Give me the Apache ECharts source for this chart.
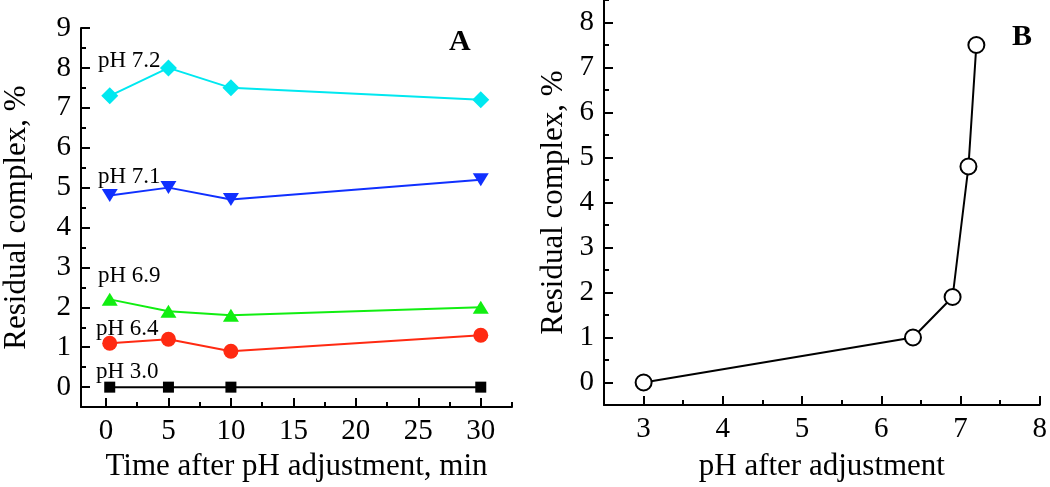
<!DOCTYPE html>
<html>
<head>
<meta charset="utf-8">
<script src="https://cdn.jsdelivr.net/npm/echarts@6/dist/echarts.min.js"></script>
<style>
html,body{margin:0;padding:0;background:#fff;}
#chart{width:1050px;height:487px;}
</style>
</head>
<body>
<div id="chart"></div>
<script>
// ---- Panel A data ----
const timesA = [0.3, 5, 10, 30];
const pH72 = [7.3, 8.0, 7.5, 7.2];
const pH71 = [4.8, 5.0, 4.7, 5.2];
const pH69 = [2.2, 1.9, 1.8, 2.0];
const pH64 = [1.1, 1.2, 0.9, 1.3];
const pH30 = [0, 0, 0, 0];
const seriesNamesA = ['pH 7.2', 'pH 7.1', 'pH 6.9', 'pH 6.4', 'pH 3.0'];
const xTicksA = [0, 5, 10, 15, 20, 25, 30];
const xMinorA = [2.5, 7.5, 12.5, 17.5, 22.5, 27.5, 32.5];
const yTicksA = [0, 1, 2, 3, 4, 5, 6, 7, 8, 9];
const yMinorA = [-0.5, 0.5, 1.5, 2.5, 3.5, 4.5, 5.5, 6.5, 7.5, 8.5];

// ---- Panel B data ----
const pHB = [3.0, 6.4, 6.9, 7.1, 7.2];
const residB = [0, 1.0, 1.9, 4.8, 7.5];
const xTicksB = [3, 4, 5, 6, 7, 8];
const xMinorB = [2.5, 3.5, 4.5, 5.5, 6.5, 7.5];
const yTicksB = [0, 1, 2, 3, 4, 5, 6, 7, 8];
const yMinorB = [-0.5, 0.5, 1.5, 2.5, 3.5, 4.5, 5.5, 6.5, 7.5, 8.5];

const FONT = 'Liberation Serif';
const chart = echarts.init(document.getElementById('chart'), null, {renderer: 'canvas'});

function pairs(xs, ys) { return xs.map((x, i) => [x, ys[i]]); }

function majorAxis(grid, pos, min, max, ticks, extra) {
  return Object.assign({
    type: 'value', gridIndex: grid, position: pos, min: min, max: max,
    splitLine: {show: false},
    axisLine: {show: true, onZero: false, lineStyle: {color: '#000', width: 2}},
    axisTick: {show: true, inside: true, length: 9, customValues: ticks, lineStyle: {color: '#000', width: 2}},
    axisLabel: {show: true, customValues: ticks, color: '#000', fontFamily: FONT, fontSize: 29, margin: 10},
    nameTextStyle: {color: '#000', fontFamily: FONT, fontSize: 31},
    nameLocation: 'middle'
  }, extra || {});
}
function minorAxis(grid, pos, min, max, ticks) {
  return {
    type: 'value', gridIndex: grid, position: pos, min: min, max: max,
    splitLine: {show: false},
    axisLine: {show: false, onZero: false},
    axisTick: {show: true, inside: true, length: 5, customValues: ticks, lineStyle: {color: '#000', width: 2}},
    axisLabel: {show: false}
  };
}

const colorsA = ['#00E8F0', '#1030FF', '#11EE11', '#FF2A12', '#000000'];
const dataA = [pH72, pH71, pH69, pH64, pH30];
const symbolsA = ['diamond', 'triangle', 'triangle', 'circle', 'rect'];
const sizesA = [[17, 17], [16, 13], [16, 13], 15, 11];
const rotA = [0, 180, 0, 0, 0];

const seriesA = dataA.map((d, i) => ({
  name: seriesNamesA[i], type: 'line', xAxisIndex: 0, yAxisIndex: 0,
  data: pairs(timesA, d),
  symbol: symbolsA[i], symbolSize: sizesA[i], symbolRotate: rotA[i],
  showAllSymbol: true,
  lineStyle: {color: colorsA[i], width: 2},
  itemStyle: {color: colorsA[i]},
  z: 3
}));

const seriesB = {
  type: 'line', xAxisIndex: 2, yAxisIndex: 2,
  data: pairs(pHB, residB),
  symbol: 'circle', symbolSize: 16, showAllSymbol: true,
  lineStyle: {color: '#000', width: 2},
  itemStyle: {color: '#fff', borderColor: '#000', borderWidth: 2},
  z: 3
};

// label positions (pixel) for series names in panel A
const labelPosA = [[98, 62], [98, 178], [98, 277], [96, 330], [96, 373]];

const option = {
  backgroundColor: '#fff',
  animation: false,
  grid: [
    {left: 79, top: 28, width: 433, height: 382},
    {left: 604, top: 0, width: 439, height: 407}
  ],
  xAxis: [
    majorAxis(0, 'bottom', -2, 32.5, xTicksA, {name: 'Time after pH adjustment, min', nameGap: 42}),
    minorAxis(0, 'bottom', -2, 32.5, xMinorA),
    majorAxis(1, 'bottom', 2.5, 8, xTicksB, {name: 'pH after adjustment', nameGap: 46}),
    minorAxis(1, 'bottom', 2.5, 8, xMinorB)
  ],
  yAxis: [
    majorAxis(0, 'left', -0.5, 9, yTicksA, {name: 'Residual complex, %', nameGap: 49}),
    minorAxis(0, 'left', -0.5, 9, yMinorA),
    majorAxis(1, 'left', -0.5, 8.5, yTicksB, {name: 'Residual complex, %', nameGap: 35}),
    minorAxis(1, 'left', -0.5, 8.5, yMinorB)
  ],
  series: seriesA.concat([seriesB]),
  graphic: seriesNamesA.map((n, i) => ({
    type: 'text', left: labelPosA[i][0], top: labelPosA[i][1] - 13,
    style: {text: n, fill: '#000', font: '23px "' + FONT + '"'}, z: 10
  })).concat([
    {type: 'text', left: 449, top: 27, style: {text: 'A', fill: '#000', font: 'bold 30px "' + FONT + '"'}},
    {type: 'text', left: 1012, top: 22, style: {text: 'B', fill: '#000', font: 'bold 30px "' + FONT + '"'}}
  ])
};
chart.setOption(option);
</script>
</body>
</html>
